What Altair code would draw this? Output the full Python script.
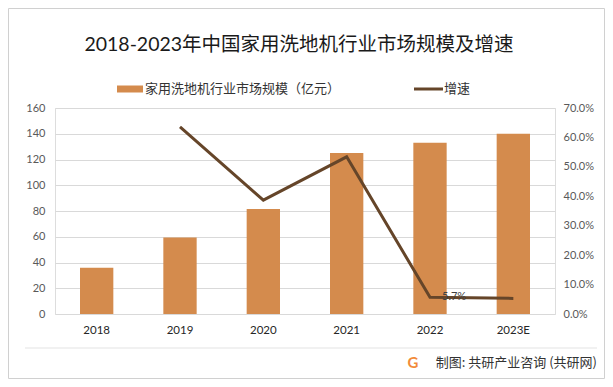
import altair as alt
import pandas as pd

years = ["2018", "2019", "2020", "2021", "2022", "2023E"]
market_size = [36, 59.5, 81.5, 125, 133, 140]
growth = [None, 0.636, 0.387, 0.534, 0.057, 0.053]

title_text = "2018-2023年中国家用洗地机行业市场规模及增速"
bar_name = "家用洗地机行业市场规模（亿元）"
line_name = "增速"
footer_text = "制图: 共研产业咨询 (共研网)"

left_ticks = [0, 20, 40, 60, 80, 100, 120, 140, 160]
right_ticks = [0, 0.1, 0.2, 0.3, 0.4, 0.5, 0.6, 0.7]

BAR = "#d48b4d"
LINE = "#654529"
FONT = "Lato, 'Noto Sans CJK SC'"
CJK = "'Noto Sans CJK SC'"

df = pd.DataFrame({"year": years, "size": market_size, "growth": growth})

xenc = alt.X("year:N", sort=years, title=None,
             scale=alt.Scale(paddingInner=0.6, paddingOuter=0.3),
             axis=alt.Axis(labelAngle=0, domain=False, ticks=False, labelPadding=10,
                           labelFont=FONT, labelFontSize=11.5, labelColor="#262626"))

bars = alt.Chart(df).mark_bar(color=BAR).encode(
    x=xenc,
    y=alt.Y("size:Q", title=None,
            scale=alt.Scale(domain=[0, 160], nice=False),
            axis=alt.Axis(values=left_ticks, domain=False, ticks=False, labelPadding=10,
                          gridColor="#d9d9d9", gridWidth=1, labelOverlap=False,
                          labelFont=FONT, labelFontSize=11, labelColor="#595959")),
)

line_df = df.dropna()
yline = alt.Y("growth:Q", title=None,
              scale=alt.Scale(domain=[0, 0.7], nice=False),
              axis=alt.Axis(orient="right", values=right_ticks, format=".1%", grid=False,
                            domain=False, ticks=False, labelPadding=8, labelOverlap=False,
                            labelFont=FONT, labelFontSize=11, labelColor="#595959"))

line = alt.Chart(line_df).mark_line(color=LINE, strokeWidth=3).encode(
    x=alt.X("year:N", sort=years),
    y=yline,
)

label = alt.Chart(line_df[line_df["year"] == "2022"]).mark_text(
    align="left", baseline="middle", dx=12, dy=0, font=FONT, fontSize=11, color="#404040"
).encode(
    x=alt.X("year:N", sort=years),
    y=yline,
    text=alt.Text("growth:Q", format=".1%"),
)

line_layer = alt.layer(line, label)

one = pd.DataFrame({"k": [0]})

def text_at(t, x, y, size, align="center", color="#262626", font=FONT, weight="normal"):
    return alt.Chart(pd.DataFrame({"t": [t]})).mark_text(
        align=align, baseline="middle", fontSize=size, color=color, font=font, fontWeight=weight
    ).encode(text="t:N", x=alt.value(x), y=alt.value(y))

title = text_at(title_text, 244, -63, 19.5, color="#1a1a1a")
leg_rect = alt.Chart(one).mark_rect(color=BAR).encode(
    x=alt.value(62), x2=alt.value(88), y=alt.value(-22.5), y2=alt.value(-15.5))
leg_text1 = text_at(bar_name, 90, -19, 13, align="left", color="#333333", font=CJK)
leg_line = alt.Chart(one).mark_rule(color=LINE, strokeWidth=3).encode(
    x=alt.value(359), x2=alt.value(388), y=alt.value(-19))
leg_text2 = text_at(line_name, 389, -19, 13, align="left", color="#333333", font=CJK)

sep = alt.Chart(one).mark_rule(color="#e3e3e3", strokeWidth=1).encode(
    x=alt.value(-30), x2=alt.value(542), y=alt.value(240))
logo = text_at("G", 358, 255, 15, color="#f28b3a", weight="bold")
footer = text_at(footer_text, 542, 255, 13, align="right", color="#333333", font=CJK)

border = alt.Chart(one).mark_rect(fill="transparent", stroke="#d0d0d0", strokeWidth=1).encode(
    x=alt.value(-46.5), x2=alt.value(549.5), y=alt.value(-99.5), y2=alt.value(270.5))

main = alt.layer(bars, line_layer).resolve_scale(y="independent")

chart = alt.layer(
    main, title, leg_rect, leg_text1, leg_line, leg_text2, sep, logo, footer, border
).properties(
    width=500, height=206,
    autosize=alt.AutoSizeParams(type="none"),
    padding={"left": 47, "top": 100, "right": 50, "bottom": 65},
).configure_view(stroke=None).configure(background="white")

chart.save("out.html", embed_options={"renderer": "svg", "actions": False})
